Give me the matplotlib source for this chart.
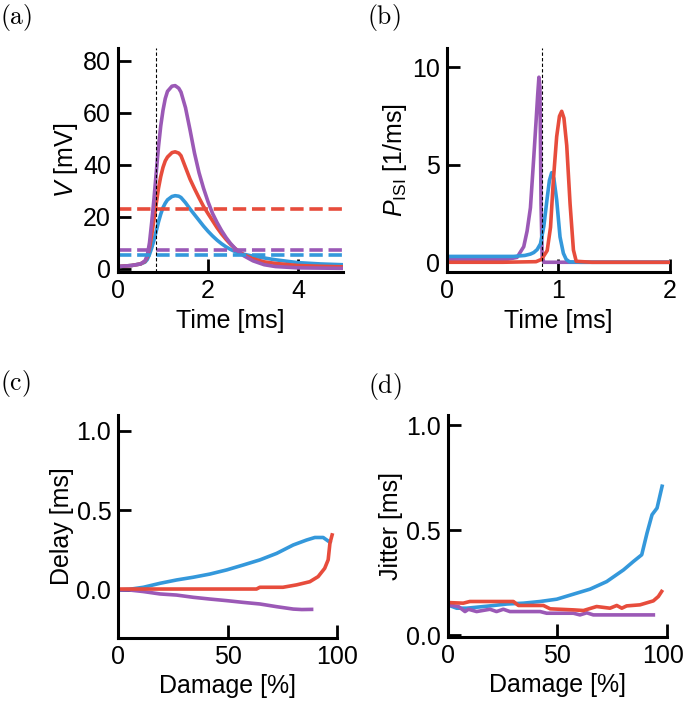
import numpy as np
import matplotlib
matplotlib.use("Agg")
import matplotlib.pyplot as plt
from matplotlib.transforms import ScaledTranslation

plt.rcParams['font.family'] = ['Liberation Sans', 'DejaVu Sans']
plt.rcParams['mathtext.fontset'] = 'custom'
plt.rcParams['mathtext.rm'] = 'Liberation Sans'
plt.rcParams['mathtext.it'] = 'Liberation Sans:italic'

blue = '#3498db'
red = '#e74c3c'
purple = '#9b59b6'

# (a) membrane potential traces
t_a = [0, 0.3, 0.5, 0.6, 0.65, 0.7, 0.75, 0.8, 0.85, 0.9, 0.95, 1.0, 1.05, 1.1,
       1.2, 1.27, 1.35, 1.4, 1.5, 1.6, 1.7, 1.8, 1.9, 2.0, 2.1, 2.2, 2.3, 2.4,
       2.5, 2.6, 2.7, 2.8, 3.0, 3.25, 3.5, 4.0, 4.5, 5.0]
v_purple = [0.8, 1.2, 1.8, 3, 5, 10, 18, 27, 37, 47, 55, 61, 65.5, 68.3,
            70.3, 70.5, 69.5, 68, 62, 53.5, 44.5, 37, 31, 25.8, 21.3, 17.8, 14.7, 12.0,
            9.7, 7.8, 6.2, 4.9, 3.0, 1.5, 0.8, 0.3, 0.2, 0.1]
v_red = [0.8, 1.2, 1.8, 2.8, 4.5, 8, 13, 19, 25, 31, 35.5, 39, 41.5, 43,
         44.7, 45, 44.5, 43.5, 39, 34.5, 30.8, 27.3, 24, 21.2, 18.5, 15.8, 13.4, 11.3,
         9.4, 7.8, 6.4, 5.3, 3.8, 2.6, 2.0, 1.2, 0.9, 0.7]
v_blue = [0.8, 1.2, 1.8, 2.5, 3.5, 5.5, 8, 11, 14.5, 18, 21, 23.5, 25.2, 26.5,
          27.8, 28.1, 27.9, 27.4, 25.4, 23, 20.8, 18.6, 16.4, 14.4, 12.6, 11.0, 9.6, 8.4,
          7.4, 6.6, 6.0, 5.5, 4.8, 4.1, 3.4, 2.3, 1.8, 1.5]
thr_purple = 7.3
thr_red = 23.0
thr_blue = 5.4
t_onset = 0.85

# (b) ISI distributions
t_bp = [0, 0.3, 0.55, 0.63, 0.69, 0.72, 0.75, 0.78, 0.8, 0.815, 0.826, 0.835,
        0.845, 0.855, 0.87, 1.0, 2.0]
p_purple = [0.15, 0.15, 0.16, 0.25, 0.8, 1.6, 2.8, 5.4, 7.2, 8.6, 9.5, 9.0,
            3.0, 0.3, 0.0, 0.0, 0.0]
t_bb = [0, 0.3, 0.6, 0.7, 0.75, 0.78, 0.81, 0.84, 0.87, 0.9, 0.92, 0.94, 0.96,
        0.985, 1.015, 1.045, 1.07, 1.1, 1.2, 2.0]
p_blue = [0.3, 0.3, 0.3, 0.35, 0.42, 0.5, 0.65, 0.95, 1.85, 3.3, 4.2, 4.6, 4.3,
          3.2, 1.3, 0.46, 0.15, 0.02, 0.0, 0.0]
t_br = [0, 0.5, 0.8, 0.85, 0.9, 0.93, 0.955, 0.985, 1.01, 1.03, 1.05, 1.075,
        1.105, 1.135, 1.16, 1.3, 2.0]
p_red = [0.0, 0.0, 0.03, 0.15, 0.6, 1.8, 4.2, 6.45, 7.5, 7.75, 7.4, 6.0,
         3.0, 0.63, 0.05, 0.0, 0.0]

# (c) delay vs damage
d_blue_c = [0, 5, 11.5, 19.1, 26.7, 34.3, 41.9, 49.6, 57.2, 64.8, 72.5, 80.1,
            86.2, 90, 93.8, 96.9]
delay_blue = [0.0, 0.004, 0.017, 0.042, 0.063, 0.08, 0.10, 0.126, 0.157, 0.189,
              0.23, 0.283, 0.314, 0.33, 0.33, 0.30]
d_red_c = [0, 30, 63.3, 64.8, 75.4, 81.6, 87.7, 91.5, 94.5, 96.1, 96.9, 97.9]
delay_red = [0.006, 0.006, 0.006, 0.017, 0.017, 0.032, 0.052, 0.084, 0.136,
             0.19, 0.294, 0.346]
d_purple_c = [0, 5, 11.5, 19.1, 26.7, 34.3, 41.9, 49.6, 57.2, 64.8, 72.5, 80.1,
              84, 88.5]
delay_purple = [0.0, 0.0, -0.01, -0.025, -0.032, -0.046, -0.057, -0.067,
                -0.078, -0.088, -0.105, -0.12, -0.123, -0.122]

# (d) jitter vs damage
d_blue_d = [0, 4.1, 8.7, 19.3, 27, 34.6, 42.2, 49.8, 57.4, 65, 72.6, 80.3,
            84.8, 88.6, 91, 93.3, 95.6, 97.9]
jit_blue = [0.144, 0.128, 0.128, 0.139, 0.148, 0.152, 0.16, 0.171, 0.195,
            0.219, 0.255, 0.311, 0.351, 0.383, 0.486, 0.574, 0.606, 0.71]
d_red_d = [0, 7.1, 10.1, 30, 32.3, 43.7, 46.8, 57.4, 62, 68, 74.1, 77.2, 79.5,
           81.7, 87.8, 93.9, 96.2, 97.7]
jit_red = [0.155, 0.152, 0.16, 0.16, 0.141, 0.141, 0.125, 0.12, 0.117, 0.136,
           0.128, 0.141, 0.128, 0.139, 0.144, 0.163, 0.184, 0.208]
d_purple_d = [0, 4.9, 7.9, 9.5, 13.2, 19.3, 22.3, 25.4, 28.4, 42.2, 45.2,
              57.4, 60.4, 63.5, 66.5, 93.9]
jit_purple = [0.144, 0.136, 0.112, 0.123, 0.112, 0.123, 0.112, 0.123, 0.112,
              0.112, 0.104, 0.104, 0.096, 0.106, 0.096, 0.096]

W, H = 685, 703
fig = plt.figure(figsize=(W / 100, H / 100), dpi=100)

fs = 18
lw = 2.6


def make_ax(x0, x1, y0, y1):
    ax = fig.add_axes([x0 / W, 1 - y1 / H, (x1 - x0) / W, (y1 - y0) / H])
    for s in ['top', 'right']:
        ax.spines[s].set_visible(False)
    for s in ['left', 'bottom']:
        ax.spines[s].set_linewidth(2.2)
    ax.tick_params(direction='in', length=9.5, width=2, labelsize=fs, pad=5)
    return ax


ax1 = make_ax(118, 343, 48, 272)
ax1.plot(t_a, v_blue, color=blue, lw=lw)
ax1.plot(t_a, v_red, color=red, lw=lw)
ax1.plot(t_a, v_purple, color=purple, lw=lw)
ax1.axhline(thr_red, color=red, lw=lw, ls='--')
ax1.axhline(thr_purple, color=purple, lw=lw, ls='--')
ax1.axhline(thr_blue, color=blue, lw=lw, ls='--')
ax1.axvline(t_onset, color='k', lw=0.8, ls=(0, (3, 2)))
ax1.set_xlim(0, 5)
ax1.set_ylim(-1.3, 85)
ax1.set_xticks([0, 2, 4])
ax1.set_yticks([0, 20, 40, 60, 80])
ax1.set_xlabel('Time [ms]', fontsize=fs)
ax1.set_ylabel(r'$V$ [mV]', fontsize=fs, labelpad=2)

ax2 = make_ax(446.7, 670, 48, 272)
ax2.plot(t_bp, p_purple, color=purple, lw=lw)
ax2.plot(t_bb, p_blue, color=blue, lw=lw)
ax2.plot(t_br, p_red, color=red, lw=lw)
ax2.axvline(t_onset, color='k', lw=0.8, ls=(0, (3, 2)))
ax2.set_xlim(0, 2)
ax2.set_ylim(-0.5, 11)
ax2.set_xticks([0, 1, 2])
ax2.set_yticks([0, 5, 10])
ax2.set_xlabel('Time [ms]', fontsize=fs)
ax2.set_ylabel(r'$P_{\mathrm{ISI}}$ [1/ms]', fontsize=fs, labelpad=2)

ax3 = make_ax(118.3, 336.7, 415, 637.7)
ax3.plot(d_blue_c, delay_blue, color=blue, lw=lw)
ax3.plot(d_purple_c, delay_purple, color=purple, lw=lw)
ax3.plot(d_red_c, delay_red, color=red, lw=lw)
ax3.set_xlim(0, 100)
ax3.set_ylim(-0.3, 1.1)
ax3.set_xticks([0, 50, 100])
ax3.set_yticks([0.0, 0.5, 1.0])
ax3.set_yticklabels(['0.0', '0.5', '1.0'])
ax3.set_xlabel('Damage [%]', fontsize=fs)
ax3.set_ylabel('Delay [ms]', fontsize=fs, labelpad=2)

ax4 = make_ax(447.7, 666.7, 415, 636.7)
ax4.plot(d_blue_d, jit_blue, color=blue, lw=lw)
ax4.plot(d_purple_d, jit_purple, color=purple, lw=lw)
ax4.plot(d_red_d, jit_red, color=red, lw=lw)
ax4.set_xlim(0, 100)
ax4.set_ylim(-0.008, 1.05)
ax4.set_xticks([0, 50, 100])
ax4.set_yticks([0.0, 0.5, 1.0])
ax4.set_yticklabels(['0.0', '0.5', '1.0'])
ax4.set_xlabel('Damage [%]', fontsize=fs)
ax4.set_ylabel('Jitter [ms]', fontsize=fs, labelpad=2)

# nudge the last tick label of (d) so it stays inside the figure
last = ax4.get_xticklabels()[-1]
last.set_transform(last.get_transform() + ScaledTranslation(-4 / 100, 0, fig.dpi_scale_trans))

for lab, x, y in [('(a)', 0, 2), ('(b)', 367, 2), ('(c)', 0, 368), ('(d)', 368, 371)]:
    fig.text(x / W, 1 - y / H, r'$\mathrm{' + lab + '}$', fontsize=18.5,
             math_fontfamily='cm', ha='left', va='top')

fig.savefig('out.png', dpi=100)
